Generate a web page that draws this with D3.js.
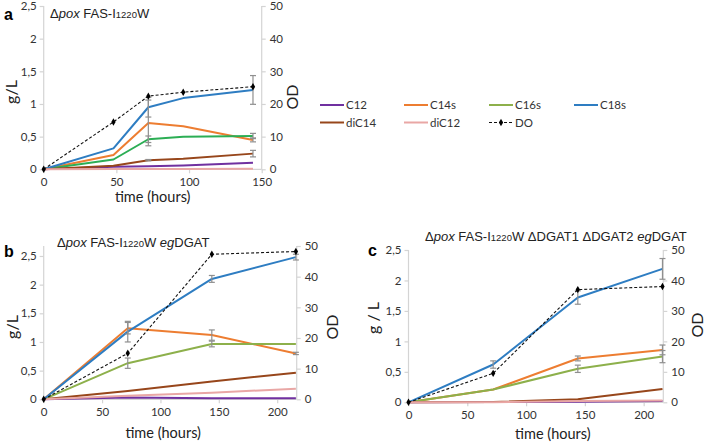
<!DOCTYPE html>
<html>
<head>
<meta charset="utf-8">
<script src="https://cdn.jsdelivr.net/npm/d3@7"></script>
<style>
  body { margin: 0; background: #fff; }
  svg { display: block; }
</style>
</head>
<body>
<div id="chart"></div>
<script>
// series names, in legend order
var seriesNames = ["C12", "C14s", "C16s", "C18s", "diC14", "diC12"];

// panel a : Δpox FAS-I1220W
var timeA = [0, 48, 72, 96, 144];
var aC12   = [0, 0.04, 0.045, 0.06, 0.10];
var aC14s  = [0, 0.22, 0.71, 0.66, 0.45];
var aC16s  = [0, 0.15, 0.46, 0.50, 0.51];
var aC18s  = [0, 0.32, 0.95, 1.09, 1.215];
var aDiC14 = [0, 0.055, 0.14, 0.16, 0.24];
var aDiC12 = [0, 0.005, 0.005, 0.005, 0.01];
var aDO    = [0, 14.5, 22.4, 23.6, 25.3];
var aErrC14s  = [0, 0, 0.35, 0, 0.03];
var aErrC16s  = [0, 0, 0.05, 0, 0.04];
var aErrC18s  = [0, 0, 0.15, 0, 0.22];
var aErrDiC14 = [0, 0, 0.01, 0, 0.05];

// panel b : Δpox FAS-I1220W egDGAT
var timeB = [0, 72, 144, 216];
var bC12   = [0, 0.03, 0.02, 0.02];
var bC14s  = [0, 1.24, 1.12, 0.80];
var bC16s  = [0, 0.63, 0.965, 0.965];
var bC18s  = [0, 1.18, 2.10, 2.48];
var bDiC14 = [0, 0.145, 0.31, 0.465];
var bDiC12 = [0, 0.06, 0.115, 0.186];
var bDO    = [0, 15.0, 47.3, 48.2];
var bErrC14s = [0, 0.10, 0.09, 0.02];
var bErrC16s = [0, 0.09, 0.05, 0];
var bErrC18s = [0, 0.18, 0.06, 0.05];

// panel c : Δpox FAS-I1220W ΔDGAT1 ΔDGAT2 egDGAT
var timeC = [0, 72, 144, 216];
var cC12   = [0, 0.005, 0.01, 0.02];
var cC14s  = [0, 0.21, 0.72, 0.86];
var cC16s  = [0, 0.21, 0.55, 0.75];
var cC18s  = [0, 0.62, 1.72, 2.19];
var cDiC14 = [0, 0.005, 0.05, 0.22];
var cDiC12 = [0, 0.0, 0.02, 0.03];
var cDO    = [0, 9.5, 37.0, 38.0];
var cErrC14s = [0, 0, 0.04, 0.08];
var cErrC16s = [0, 0, 0.06, 0.10];
var cErrC18s = [0, 0.06, 0.11, 0.17];

// ticks
var gTicks = [0, 0.5, 1, 1.5, 2, 2.5];
var odTicks = [0, 10, 20, 30, 40, 50];
var xTicksA = [0, 50, 100, 150];
var xTicksBC = [0, 50, 100, 150, 200];

// kulay
var colors = {
    C12: "#7030a0",
    C14s: "#ed7d31",
    C16s: "#8db04b",
    C18s: "#2e7dc2",
    diC14: "#97461b",
    diC12: "#e9a7a5"
};
var errColor = "#8f8f8f";
var axisColor = "#d4d4d4";
var tickFont = "Lato, 'Open Sans', sans-serif";
var titleFont = "'Liberation Sans', Arial, sans-serif";

var svg = d3.select("#chart").append("svg")
    .attr("width", 709)
    .attr("height", 444);
svg.append("rect").attr("width", 709).attr("height", 444).attr("fill", "#fff");

var fmt = function(d) { return String(d).replace(".", ","); };

var drawPanel = function(p) {
    var x = d3.scaleLinear().domain([0, p.xMax]).range([p.left, p.right]);
    var y = d3.scaleLinear().domain([0, p.yMax]).range([p.bottom, p.top]);
    var y2 = d3.scaleLinear().domain([0, 50]).range([p.bottom, p.top]);

    var g = svg.append("g").attr("class", "panel-" + p.letter);

    // axes
    var axL = g.append("g").attr("transform", "translate(" + p.left + ",0)")
        .call(d3.axisLeft(y).tickValues(gTicks).tickFormat(fmt).tickSize(4).tickPadding(3));
    var axR = g.append("g").attr("transform", "translate(" + p.right + ",0)")
        .call(d3.axisRight(y2).tickValues(odTicks).tickSize(4).tickPadding(4));
    var axB = g.append("g").attr("transform", "translate(0," + p.bottom + ")")
        .call(d3.axisBottom(x).tickValues(p.xTicks).tickSize(4).tickPadding(5));
    [axL, axR, axB].forEach(function(ax) {
        ax.select(".domain").attr("stroke", axisColor).attr("stroke-width", 1.2);
        ax.selectAll(".tick line").attr("stroke", axisColor).attr("stroke-width", 1.2);
        ax.selectAll(".tick text").attr("fill", "#333")
            .style("font-family", tickFont).style("font-size", "11.5px");
    });
    axL.select(".domain").attr("d", "M0," + p.bottom + "V" + p.top);
    axR.select(".domain").attr("d", "M0," + p.bottom + "V" + p.top);
    axB.select(".domain").attr("d", "M" + p.left + ",0H" + p.right);

    // series lines
    var line = d3.line()
        .x(function(d) { return x(d[0]); })
        .y(function(d) { return y(d[1]); });

    seriesNames.forEach(function(name) {
        var vals = p.data[name];
        var pts = p.time.map(function(t, i) { return [t, vals[i]]; });
        g.append("path")
            .datum(pts)
            .attr("fill", "none")
            .attr("stroke", (p.colorOverride && p.colorOverride[name]) || colors[name])
            .attr("stroke-width", 2)
            .attr("stroke-linejoin", "round")
            .attr("d", line);
    });

    // error bars
    Object.keys(p.err).forEach(function(name) {
        var e = p.err[name];
        var vals = p.data[name];
        p.time.forEach(function(t, i) {
            if (!e[i]) return;
            var cx = x(t), y1 = y(vals[i] + e[i]), y0 = y(vals[i] - e[i]);
            g.append("line").attr("x1", cx).attr("x2", cx).attr("y1", y1).attr("y2", y0)
                .attr("stroke", errColor).attr("stroke-width", 1.2);
            [y1, y0].forEach(function(yy) {
                g.append("line").attr("x1", cx - 3).attr("x2", cx + 3).attr("y1", yy).attr("y2", yy)
                    .attr("stroke", errColor).attr("stroke-width", 1.2);
            });
        });
    });

    // DO (OD) dashed on right axis
    var lineOD = d3.line()
        .x(function(d) { return x(d[0]); })
        .y(function(d) { return y2(d[1]); });
    var odPts = p.time.map(function(t, i) { return [t, p.od[i]]; });
    g.append("path")
        .datum(odPts)
        .attr("fill", "none")
        .attr("stroke", "#111")
        .attr("stroke-width", 1.1)
        .attr("stroke-dasharray", "3,2")
        .attr("d", lineOD);
    g.selectAll(".od-mark").data(odPts).enter().append("path")
        .attr("class", "od-mark")
        .attr("d", d3.symbol().type(d3.symbolDiamond).size(16))
        .attr("fill", "#000")
        .attr("transform", function(d) { return "translate(" + x(d[0]) + "," + y2(d[1]) + ")"; });

    // labels
    g.append("text")
        .attr("x", (p.left + p.right) / 2 + p.xLabDx)
        .attr("y", p.xLabY)
        .attr("text-anchor", "middle")
        .style("font-family", tickFont).style("font-size", "14.5px").attr("fill", "#222")
        .text("time (hours)");
    g.append("text")
        .attr("transform", "translate(" + p.gLab[0] + "," + p.gLab[1] + ") rotate(-90)")
        .attr("text-anchor", "middle")
        .style("font-family", tickFont).style("font-size", "16px").attr("fill", "#222")
        .text(p.gText);
    g.append("text")
        .attr("transform", "translate(" + p.odLab[0] + "," + p.odLab[1] + ") rotate(-90)")
        .attr("text-anchor", "middle")
        .style("font-family", tickFont).style("font-size", "16px").attr("fill", "#222")
        .text("OD");

    // panel letter
    g.append("text")
        .attr("x", p.letterPos[0]).attr("y", p.letterPos[1])
        .style("font-family", titleFont).style("font-size", "16px").style("font-weight", "bold")
        .text(p.letter);

    // title with italics and small 1220
    var t = g.append("text")
        .attr("x", p.titlePos[0]).attr("y", p.titlePos[1])
        .style("font-family", titleFont).style("font-size", "13px").attr("fill", "#222");
    p.title.forEach(function(part) {
        var ts = t.append("tspan").text(part[0]);
        if (part[1] === "i") ts.style("font-style", "italic");
        if (part[1] === "s") ts.style("font-size", "9.5px");
    });
};

var titleBase = [["Δ", ""], ["pox", "i"], [" FAS-I", ""], ["1220", "s"], ["W", ""]];

drawPanel({
    letter: "a",
    time: timeA,
    data: { C12: aC12, C14s: aC14s, C16s: aC16s, C18s: aC18s, diC14: aDiC14, diC12: aDiC12 },
    err: { C14s: aErrC14s, C16s: aErrC16s, C18s: aErrC18s, diC14: aErrDiC14 },
    od: aDO,
    colorOverride: { C16s: "#2cae55" },
    xMax: 150, yMax: 2.5, xTicks: xTicksA,
    left: 43.7, right: 261.7, top: 6, bottom: 169.3,
    xLabY: 202, xLabDx: 0,
    gLab: [17, 92], gText: "g/L",
    odLab: [298, 97],
    letterPos: [4, 20],
    titlePos: [50, 18],
    title: titleBase
});

drawPanel({
    letter: "b",
    time: timeB,
    data: { C12: bC12, C14s: bC14s, C16s: bC16s, C18s: bC18s, diC14: bDiC14, diC12: bDiC12 },
    err: { C14s: bErrC14s, C16s: bErrC16s, C18s: bErrC18s },
    od: bDO,
    xMax: 216.7, yMax: 2.674, xTicks: xTicksBC,
    left: 43.7, right: 296.7, top: 246, bottom: 399.3,
    xLabY: 438, xLabDx: -7,
    gLab: [18, 327], gText: "g/L",
    odLab: [338, 327],
    letterPos: [4, 257],
    titlePos: [57, 247],
    title: titleBase.concat([[" ", ""], ["eg", "i"], ["DGAT", ""]])
});

drawPanel({
    letter: "c",
    time: timeC,
    data: { C12: cC12, C14s: cC14s, C16s: cC16s, C18s: cC18s, diC14: cDiC14, diC12: cDiC12 },
    err: { C14s: cErrC14s, C16s: cErrC16s, C18s: cErrC18s },
    od: cDO,
    xMax: 216.7, yMax: 2.5, xTicks: xTicksBC,
    left: 408.5, right: 663.3, top: 250, bottom: 402.3,
    xLabY: 439, xLabDx: 17,
    gLab: [379, 318], gText: "g / L",
    odLab: [703, 325],
    letterPos: [368, 256],
    titlePos: [425, 241],
    title: titleBase.concat([[" ΔDGAT1 ΔDGAT2 ", ""], ["eg", "i"], ["DGAT", ""]])
});

// legend (panel a)
var legendItems = [
    { name: "C12", x: 320, y: 105 },
    { name: "C14s", x: 404, y: 105 },
    { name: "C16s", x: 489, y: 105 },
    { name: "C18s", x: 574, y: 105 },
    { name: "diC14", x: 320, y: 122.5 },
    { name: "diC12", x: 404, y: 122.5 },
    { name: "DO", x: 489, y: 122.5 }
];
var leg = svg.append("g").attr("class", "legend");
legendItems.forEach(function(it) {
    if (it.name === "DO") {
        leg.append("line").attr("x1", it.x).attr("x2", it.x + 24).attr("y1", it.y).attr("y2", it.y)
            .attr("stroke", "#111").attr("stroke-width", 1.1).attr("stroke-dasharray", "3,2");
        leg.append("path").attr("d", d3.symbol().type(d3.symbolDiamond).size(16))
            .attr("transform", "translate(" + (it.x + 12) + "," + it.y + ")");
    } else {
        leg.append("line").attr("x1", it.x).attr("x2", it.x + 24).attr("y1", it.y).attr("y2", it.y)
            .attr("stroke", colors[it.name]).attr("stroke-width", 2);
    }
    leg.append("text").attr("x", it.x + 26).attr("y", it.y + 4)
        .style("font-family", tickFont).style("font-size", "11.5px").attr("fill", "#333")
        .text(it.name);
});
</script>
</body>
</html>
